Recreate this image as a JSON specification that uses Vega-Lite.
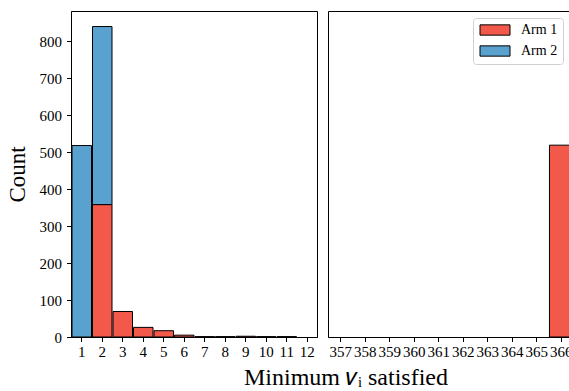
{
  "$schema": "https://vega.github.io/schema/vega-lite/v6.json",
  "padding": {"left": 5, "top": 10, "right": 0, "bottom": 2},
  "background": "white",
  "config": {
    "font": "Liberation Serif",
    "view": {"stroke": "black", "strokeWidth": 1},
    "concat": {"spacing": 9},
    "axis": {
      "grid": false,
      "domainColor": "black",
      "tickColor": "black",
      "labelColor": "black",
      "labelFont": "Liberation Serif",
      "labelFontSize": 15,
      "tickSize": 4.5,
      "labelPadding": 3,
      "titleFont": "Liberation Serif",
      "titleFontWeight": "normal",
      "titleFontSize": 23,
      "titleColor": "black"
    }
  },
  "datasets": {
    "left": [
      {"v": 1, "arm": "Arm 2", "count": 518},
      {"v": 2, "arm": "Arm 2", "count": 482},
      {"v": 2, "arm": "Arm 1", "count": 358},
      {"v": 3, "arm": "Arm 1", "count": 69},
      {"v": 4, "arm": "Arm 1", "count": 26},
      {"v": 5, "arm": "Arm 1", "count": 17},
      {"v": 6, "arm": "Arm 1", "count": 5},
      {"v": 7, "arm": "Arm 1", "count": 1},
      {"v": 8, "arm": "Arm 1", "count": 1},
      {"v": 9, "arm": "Arm 1", "count": 2},
      {"v": 10, "arm": "Arm 1", "count": 1},
      {"v": 11, "arm": "Arm 1", "count": 1}
    ],
    "right": [
      {"v": 366, "arm": "Arm 1", "count": 519}
    ]
  },
  "hconcat": [
    {
      "width": 246,
      "height": 326,
      "data": {"name": "left"},
      "mark": {"type": "bar", "stroke": "black", "strokeWidth": 1, "opacity": 1},
      "encoding": {
        "x": {
          "field": "v", "type": "quantitative",
          "bin": {"step": 1, "anchor": 0.5, "extent": [0.5, 12.5]},
          "scale": {"domain": [0.5, 12.5], "nice": false, "zero": false},
          "axis": {"values": [1,2,3,4,5,6,7,8,9,10,11,12], "title": null, "labelFlush": false, "labelOverlap": false}
        },
        "y": {
          "aggregate": "sum", "field": "count", "type": "quantitative",
          "scale": {"domain": [0, 882], "nice": false},
          "axis": {"values": [0,100,200,300,400,500,600,700,800], "title": "Count", "titlePadding": 10, "labelPadding": 5}
        },
        "color": {
          "field": "arm", "type": "nominal",
          "scale": {"domain": ["Arm 1", "Arm 2"], "range": ["#f2594b", "#59a1cf"]},
          "legend": null
        },
        "order": {"field": "arm", "sort": "ascending"}
      }
    },
    {
      "width": 243,
      "height": 326,
      "data": {"name": "right"},
      "mark": {"type": "bar", "stroke": "black", "strokeWidth": 1, "opacity": 1, "clip": true},
      "encoding": {
        "x": {
          "field": "v", "type": "quantitative",
          "bin": {"step": 1, "anchor": 0.5, "extent": [356.5, 366.5]},
          "scale": {"domain": [356.5, 366.42], "nice": false, "zero": false},
          "axis": {"values": [357,358,359,360,361,362,363,364,365,366], "title": null, "labelFlush": false, "labelOverlap": false}
        },
        "y": {
          "aggregate": "sum", "field": "count", "type": "quantitative",
          "scale": {"domain": [0, 882], "nice": false},
          "axis": null
        },
        "color": {
          "field": "arm", "type": "nominal",
          "scale": {"domain": ["Arm 1", "Arm 2"], "range": ["#f2594b", "#59a1cf"]},
          "legend": {
            "title": null,
            "orient": "none",
            "legendX": 145,
            "legendY": 7,
            "strokeColor": "#d0d0d0",
            "fillColor": "white",
            "cornerRadius": 3,
            "padding": 5,
            "rowPadding": 5,
            "labelFont": "Liberation Serif",
            "labelFontSize": 14,
            "labelColor": "black",
            "symbolType": "M-3,-1.03H3V1.03H-3Z",
            "symbolSize": 100,
            "symbolOffset": 10,
            "labelOffset": 19,
            "symbolStrokeColor": "black",
            "symbolStrokeWidth": 1,
            "symbolOpacity": 1
          }
        },
        "order": {"field": "arm", "sort": "ascending"}
      }
    }
  ],
  "resolve": {"scale": {"x": "independent"}, "legend": {"color": "independent"}},
  "title": {
    "text": "Minimum 𝜈ᵢ satisfied",
    "orient": "bottom",
    "anchor": "middle",
    "font": "Liberation Serif",
    "fontSize": 24,
    "fontWeight": "normal",
    "color": "black",
    "offset": 6,
    "dx": 57
  }
}
